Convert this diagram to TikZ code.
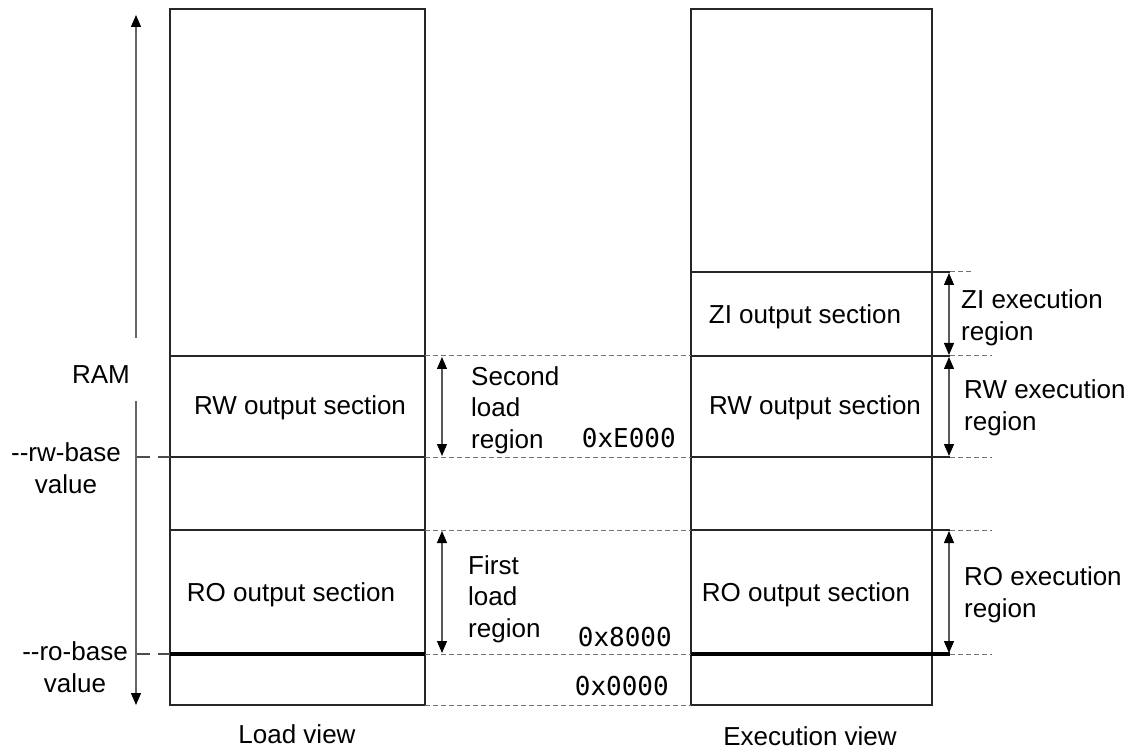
\documentclass[tikz,border=0pt]{standalone}
\usepackage{fontspec}
\setmainfont{Liberation Sans}
\newfontfamily\hexfont{DejaVu Sans Mono}
\usetikzlibrary{arrows.meta}
\begin{document}
\begin{tikzpicture}[x=1pt,y=-1pt,
  box/.style={draw=black!85,line width=2pt},
  sep/.style={draw=black!85,line width=1.6pt},
  heavysep/.style={draw=black,line width=3.5pt},
  guide/.style={draw=black!55,line width=1pt,dash pattern=on 5pt off 3pt},
  tickline/.style={draw=black!70,line width=1.3pt,dash pattern=on 13pt off 8pt},
  dim/.style={draw=black!65,line width=1.2pt,{Triangle[length=12pt,width=10pt,color=black]}-{Triangle[length=12pt,width=10pt,color=black]}},
  ramarrow/.style={draw=black!60,line width=1.2pt,-{Triangle[length=12pt,width=10pt,color=black]}},
  lbl/.style={font=\fontsize{26}{31.5}\selectfont,inner sep=0pt,align=left},
  clbl/.style={font=\fontsize{26}{31.5}\selectfont,inner sep=0pt,align=center},
  hex/.style={font=\hexfont\fontsize{26}{31.5}\selectfont,inner sep=0pt,anchor=base east}
]
\useasboundingbox (0,0) rectangle (1144,751);
% ---- key coordinates
\coordinate (L1) at (170,9);   \coordinate (L2) at (425,705);
\coordinate (R1) at (691,9);   \coordinate (R2) at (932,705);
% ---- left (load view) box
\draw[box] (L1) rectangle (L2);
\draw[sep] (170,356) -- (425,356);
\draw[sep] (170,457) -- (425,457);
\draw[sep] (170,530) -- (425,530);
\draw[heavysep] (170,654) -- (425,654);
% ---- right (execution view) box
\draw[box] (R1) rectangle (R2);
\draw[sep] (691,272) -- (950,272);
\draw[sep] (691,356) -- (950,356);
\draw[sep] (691,457) -- (950,457);
\draw[sep] (691,530) -- (950,530);
\draw[heavysep] (691,654) -- (950,654);
% ---- guides between boxes
\foreach \y in {356,457,530,654,705} \draw[guide] (425,\y) -- (691,\y);
\draw[guide] (950,272) -- (972,272);
\foreach \y in {356,457,530,654} \draw[guide] (950,\y) -- (992,\y);
% ---- left RAM arrow
\coordinate (ramtop) at (136,15);  \coordinate (ramA) at (136,338);
\coordinate (ramB) at (136,401);   \coordinate (rambot) at (136,705);
\draw[ramarrow] (ramA) -- (ramtop);
\draw[ramarrow] (ramB) -- (rambot);
\draw[tickline] (137,457) -- (170,457);
\draw[tickline] (137,654) -- (170,654);
\node[lbl,anchor=base east] (ram) at (130,384) {RAM};
\node[clbl] (rwb) at (66,468) {-{}-rw-base\\value};
\node[clbl] (rob) at (75,667) {-{}-ro-base\\value};
% ---- load view texts
\node[clbl,anchor=base] (lrw) at (300,415) {RW output section};
\node[clbl,anchor=base] (lro) at (291,601) {RO output section};
\draw[dim] (442,357) -- (442,456);
\draw[dim] (442,531) -- (442,653);
\node[lbl,anchor=west] (second) at (471,410) {Second\\load\\region};
\node[lbl,anchor=west] (first) at (468,599) {First\\load\\region};
\node[hex] (hE) at (676,447) {0xE000};
\node[hex] (h8) at (672,646) {0x8000};
\node[hex] (h0) at (669,695) {0x0000};
% ---- execution view texts
\node[clbl,anchor=base] (rzi) at (805,324) {ZI output section};
\node[clbl,anchor=base] (rrw) at (815,415) {RW output section};
\node[clbl,anchor=base] (rro) at (806,601) {RO output section};
\draw[dim] (949,273) -- (949,355);
\draw[dim] (949,357) -- (949,456);
\draw[dim] (949,531) -- (949,653);
\node[lbl,anchor=west] (zie) at (961,318) {ZI execution\\region};
\node[lbl,anchor=west] (rwe) at (964,408) {RW execution\\region};
\node[lbl,anchor=west] (roe) at (964,595) {RO execution\\region};
% ---- captions
\node[clbl,anchor=base] (lv) at (297,743) {Load view};
\node[clbl,anchor=base] (ev) at (810,745) {Execution view};
\end{tikzpicture}
\end{document}
